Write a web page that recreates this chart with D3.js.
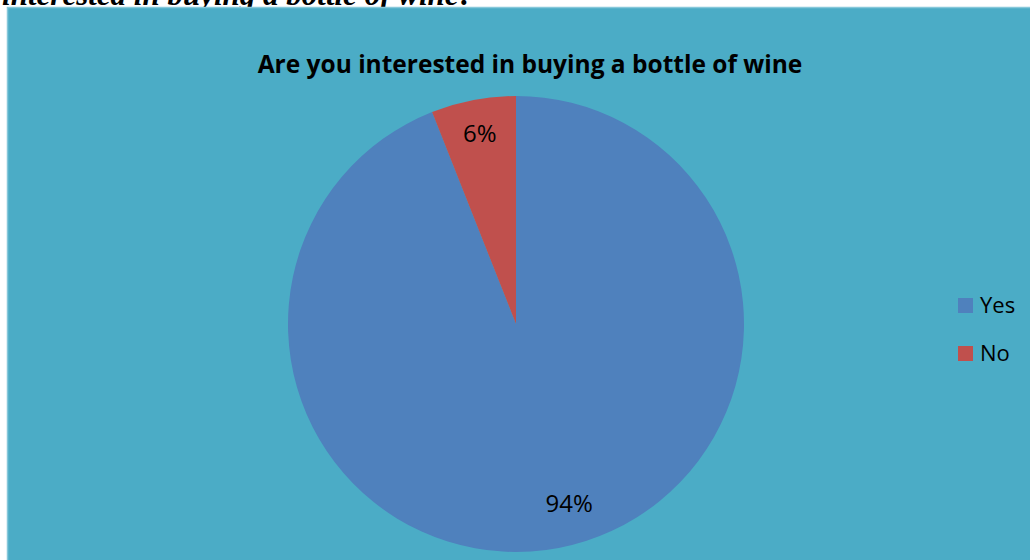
<!DOCTYPE html>
<html>
<head>
<meta charset="utf-8">
<script src="https://cdn.jsdelivr.net/npm/d3@7"></script>
<style>
  html, body { margin: 0; padding: 0; background: #ffffff; overflow: hidden; }
  svg { display: block; }
</style>
</head>
<body>
<svg id="chart" width="1030" height="560"></svg>
<script>
// Survey answers and their shares (percent)
const categories = ["Yes", "No"];
const values = [94, 6];
const colors = ["#4F81BD", "#C0504D"];
const title = "Are you interested in buying a bottle of wine";
const caption = "interested in buying a bottle of wine?";

const svg = d3.select("#chart");
const W = 1030, H = 560;

// Caption line of the surrounding document, partly hidden by the chart frame
svg.append("text")
  .attr("x", 474)
  .attr("y", 5)
  .attr("text-anchor", "end")
  .attr("font-family", "Liberation Serif, serif")
  .attr("font-weight", "bold")
  .attr("font-style", "italic")
  .attr("font-size", 31)
  .attr("fill", "#000")
  .text(caption);

// Chart frame
svg.append("rect")
  .attr("x", 7.5).attr("y", 7.5)
  .attr("width", W).attr("height", H)
  .attr("fill", "#4BACC6")
  .attr("stroke", "#86C8DA")
  .attr("stroke-width", 1.5);

// Title
svg.append("text")
  .attr("x", 530)
  .attr("y", 73)
  .attr("text-anchor", "middle")
  .attr("font-family", "Open Sans, sans-serif")
  .attr("font-weight", "bold")
  .attr("font-size", 24.5)
  .attr("fill", "#000")
  .text(title);

// Pie
const cx = 516, cy = 324, r = 228;
const pie = d3.pie().sort(null).value(d => d.value);
const data = pie(categories.map((c, i) => ({ name: c, value: values[i], color: colors[i] })));
const arc = d3.arc().innerRadius(0).outerRadius(r);

const g = svg.append("g").attr("transform", `translate(${cx},${cy})`);
g.selectAll("path.slice")
  .data(data)
  .enter().append("path")
  .attr("class", "slice")
  .attr("d", arc)
  .attr("fill", d => d.data.color);

// Percentage labels placed inside each slice near the rim
function labelPos(d) {
  const small = d.endAngle - d.startAngle < Math.PI;
  const rr = small ? r * 0.85 : r * 0.82;
  const a = small ? (d.startAngle + d.endAngle) / 2 : d.startAngle + (d.endAngle - d.startAngle) * 0.483;
  return [rr * Math.sin(a), -rr * Math.cos(a)];
}

const total = d3.sum(values);
g.selectAll("text.pct")
  .data(data)
  .enter().append("text")
  .attr("class", "pct")
  .attr("transform", d => {
    const [x, y] = labelPos(d);
    return `translate(${x},${y})`;
  })
  .attr("text-anchor", "middle")
  .attr("dy", "0.35em")
  .attr("font-family", "Open Sans, sans-serif")
  .attr("font-size", 24)
  .attr("fill", "#000")
  .text(d => Math.round(d.data.value / total * 100) + "%");

// Legend
const legend = svg.append("g").attr("transform", "translate(958,298)");
const item = legend.selectAll("g")
  .data(categories)
  .enter().append("g")
  .attr("transform", (d, i) => `translate(0,${i * 48})`);
item.append("rect")
  .attr("width", 15).attr("height", 15)
  .attr("fill", (d, i) => colors[i]);
item.append("text")
  .attr("x", 22)
  .attr("y", 15)
  .attr("font-family", "Open Sans, sans-serif")
  .attr("font-size", 22)
  .attr("fill", "#000")
  .text(d => d);
</script>
</body>
</html>
